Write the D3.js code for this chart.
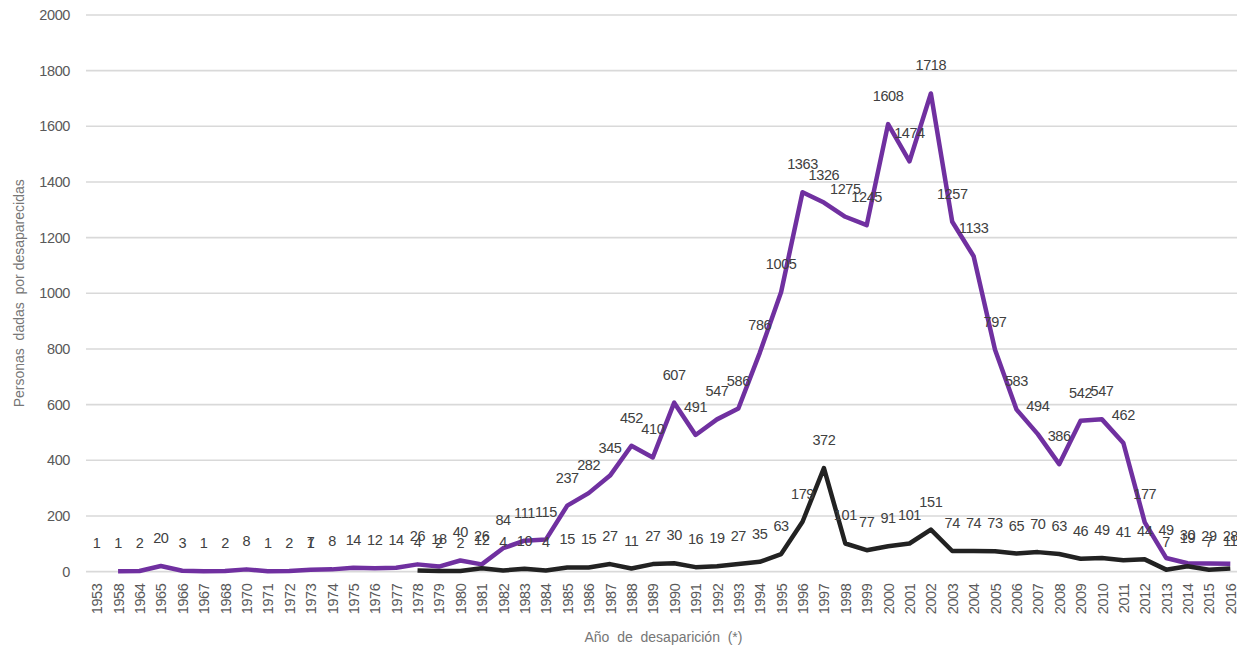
<!DOCTYPE html>
<html>
<head>
<meta charset="utf-8">
<script src="https://cdn.jsdelivr.net/npm/d3@7/dist/d3.min.js"></script>
<style>
  html, body { margin: 0; padding: 0; background: #ffffff; }
  svg { display: block; font-family: "Liberation Sans", Arial, sans-serif; }
</style>
</head>
<body>
<svg id="chart" width="1237" height="646"></svg>
<script>
const years = ["1953","1958","1964","1965","1966","1967","1968","1970","1971","1972","1973","1974","1975","1976","1977",
  "1978","1979","1980","1981","1982","1983","1984","1985","1986","1987","1988","1989","1990","1991","1992","1993","1994",
  "1995","1996","1997","1998","1999","2000","2001","2002","2003","2004","2005","2006","2007","2008","2009","2010","2011",
  "2012","2013","2014","2015","2016"];

const purpleSeries = [null,1,2,20,3,1,2,8,1,2,7,8,14,12,14,
  26,18,40,26,84,111,115,237,282,345,452,410,607,491,547,586,786,
  1005,1363,1326,1275,1245,1608,1474,1718,1257,1133,797,583,494,386,542,547,462,
  177,49,30,29,28];

const blackSeries = [1,null,null,null,null,null,null,null,null,null,1,null,null,null,null,
  4,2,2,12,4,10,4,15,15,27,11,27,30,16,19,27,35,
  63,179,372,101,77,91,101,151,74,74,73,65,70,63,46,49,41,
  44,7,19,7,11];

const yTicks = [0,200,400,600,800,1000,1200,1400,1600,1800,2000];

const svg = d3.select("#chart");
const plotL = 86, plotR = 1241, plotT = 15, plotB = 571.6;

const x = d3.scalePoint().domain(years).range([plotL, plotR]).padding(0.5);
const y = d3.scaleLinear().domain([0, 2000]).range([plotB, plotT]);

// gridlines
svg.append("g")
  .selectAll("line")
  .data(yTicks)
  .join("line")
  .attr("x1", plotL).attr("x2", plotR)
  .attr("y1", d => y(d)).attr("y2", d => y(d))
  .attr("stroke", "#d9d9d9").attr("stroke-width", 1.6);

// y axis labels
const yAxis = d3.axisLeft(y).tickValues(yTicks).tickSize(0).tickPadding(0).tickFormat(d3.format("d"));
const gy = svg.append("g").attr("transform", `translate(70,0)`).call(yAxis);
gy.select(".domain").remove();
gy.selectAll("text").attr("fill", "#595959").style("font-size", "14.5px").style("letter-spacing", "-0.4px")
  .attr("font-family", "Liberation Sans, Arial, sans-serif");

// x axis labels
const xAxis = d3.axisBottom(x).tickSize(0).tickPadding(0);
const gx = svg.append("g").attr("transform", `translate(0,${plotB})`).call(xAxis);
gx.select(".domain").remove();
gx.selectAll("text")
  .attr("fill", "#595959").style("font-size", "14.5px").style("letter-spacing", "-0.4px")
  .attr("font-family", "Liberation Sans, Arial, sans-serif")
  .attr("text-anchor", "end")
  .attr("dy", "0.35em")
  .attr("transform", "translate(0,12) rotate(-90)")
  .attr("x", 0).attr("y", 0);

// axis titles
svg.append("text")
  .attr("transform", `translate(24,${(plotT + plotB) / 2}) rotate(-90)`)
  .attr("text-anchor", "middle")
  .attr("fill", "#767676")
  .style("font-size", "14px")
  .style("white-space", "pre")
  .attr("xml:space", "preserve")
  .text("Personas  dadas  por desaparecidas");

svg.append("text")
  .attr("x", (plotL + plotR) / 2)
  .attr("y", 642)
  .attr("text-anchor", "middle")
  .attr("fill", "#767676")
  .style("font-size", "14px")
  .style("white-space", "pre")
  .attr("xml:space", "preserve")
  .text("Año  de  desaparición  (*)");

const line = d3.line()
  .defined(d => d.v !== null)
  .x(d => x(d.year))
  .y(d => y(d.v));

const series = [
  { name: "purple", values: purpleSeries, color: "#7030a0" },
  { name: "black", values: blackSeries, color: "#222222" }
];

series.forEach(s => {
  const pts = years.map((yr, i) => ({ year: yr, v: s.values[i] }));
  svg.append("path")
    .datum(pts)
    .attr("fill", "none")
    .attr("stroke", s.color)
    .attr("stroke-width", 4.5)
    .attr("stroke-linejoin", "round")
    .attr("d", line);
});

series.forEach(s => {
  const pts = years.map((yr, i) => ({ year: yr, v: s.values[i] })).filter(d => d.v !== null);
  svg.append("g")
    .selectAll("text")
    .data(pts)
    .join("text")
    .attr("x", d => x(d.year))
    .attr("y", d => y(d.v) - 23)
    .attr("text-anchor", "middle")
    .attr("fill", "#404040")
    .style("font-size", "14.5px")
    .style("letter-spacing", "-0.4px")
    .text(d => d.v);
});
</script>
</body>
</html>
